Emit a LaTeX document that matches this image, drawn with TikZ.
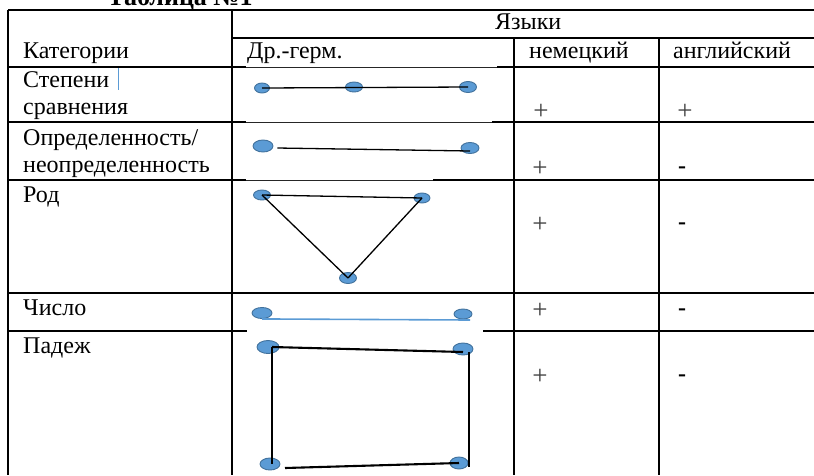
\documentclass[tikz,border=0pt]{standalone}
\usepackage{fontspec}
\setmainfont{Liberation Serif}
\usetikzlibrary{shapes.geometric}
\definecolor{dotblue}{HTML}{5B9BD5}
\definecolor{dotedge}{HTML}{41719C}
\begin{document}
\begin{tikzpicture}[x=1pt,y=-1pt,
  txt/.style={anchor=base west, inner sep=0, font=\fontsize{24}{28}\selectfont},
  sign/.style={anchor=center, inner sep=0, font=\fontsize{27}{30}\selectfont, text=black!75},
  minus/.style={anchor=center, inner sep=0, font=\bfseries\fontsize{24}{28}\selectfont, text=black},
  dot/.style={ellipse, fill=dotblue, draw=dotedge, line width=0.9pt, inner sep=0, minimum width=16pt, minimum height=10pt},
  rule/.style={line width=2.4pt, black},
  faint/.style={line width=0.9pt, black!85},
  edge/.style={line width=1.3pt, black},
  thickedge/.style={line width=2.1pt, black},
  blueedge/.style={line width=1.6pt, dotblue}
]
\useasboundingbox (0,0) rectangle (814,475);
\clip (0,0) rectangle (814,475);

% title (cut off at the top, as in the reference)
\node[anchor=base, inner sep=0, font=\bfseries\fontsize{26}{30}\selectfont] (title) at (180,5) {Таблица №1};

% table rules
\draw[rule] (8,10) -- (814,10);
\draw[rule] (232,38) -- (814,38);
\draw[rule] (8,67) -- (246,67);
\draw[faint] (246,67) -- (497,67);
\draw[rule] (497,67) -- (814,67);
\draw[rule] (8,122) -- (246,122);
\draw[faint] (246,122) -- (492,122);
\draw[rule] (492,122) -- (814,122);
\draw[rule] (8,180) -- (246,180);
\draw[faint] (246,180) -- (433,180);
\draw[rule] (433,180) -- (814,180);
\draw[rule] (8,293) -- (814,293);
\draw[rule] (8,331) -- (247,331);
\draw[rule] (483,331) -- (814,331);
\draw[rule] (8,10) -- (8,475);
\draw[rule] (232,10) -- (232,475);
\draw[rule] (514,38) -- (514,475);
\draw[rule] (659,38) -- (659,475);

% text cursor
\draw[line width=1pt, dotblue] (118,68) -- (118,90);

% header
\node[txt] (hcat) at (23,58) {Категории};
\node[txt] (hlang) at (495,29) {Языки};
\node[txt] (hold) at (247,58) {Др.-герм.};
\node[txt] (hger) at (529,58) {немецкий};
\node[txt] (heng) at (673,58) {английский};

% row labels
\node[txt] (r1a) at (23,87) {Степени};
\node[txt] (r1b) at (23,114) {сравнения};
\node[txt] (r2a) at (23,145) {Определенность/};
\node[txt] (r2b) at (23,172) {неопределенность};
\node[txt] (r3) at (23,202) {Род};
\node[txt] (r4) at (23,315) {Число};
\node[txt] (r5) at (23,353) {Падеж};

% signs
\node[sign] (s1g) at (541,112) {+};
\node[sign] (s1e) at (685,112) {+};
\node[sign] (s2g) at (540,169) {+};
\node[minus] (s2e) at (682,170) {-};
\node[sign] (s3g) at (540,225) {+};
\node[minus] (s3e) at (682,226) {-};
\node[sign] (s4g) at (540,311) {+};
\node[minus] (s4e) at (682,312) {-};
\node[sign] (s5g) at (540,377) {+};
\node[minus] (s5e) at (682,378) {-};

% row 1 graph
\node[dot, minimum width=15pt] (a1) at (262,88) {};
\node[dot, minimum width=17pt] (a2) at (354,87) {};
\node[dot, minimum width=17pt, minimum height=11pt] (a3) at (468,87) {};
\draw[edge] (a1.center) -- (a3.center);

% row 2 graph
\node[dot, minimum width=20pt, minimum height=12pt] (b1) at (263,146) {};
\node[dot, minimum width=18pt, minimum height=11pt] (b2) at (470,148) {};
\draw[edge] ([xshift=4pt,yshift=-2pt]b1.east) -- ([yshift=-3pt]b2.center);

% row 3 graph
\node[dot, minimum width=17pt] (c1) at (262,195) {};
\node[dot] (c2) at (422,198) {};
\node[dot, minimum width=17pt, minimum height=11pt] (c3) at (348,278) {};
\draw[edge] (c1.center) -- (c2.center);
\draw[edge] (c1.center) -- (c3.center);
\draw[edge] (c2.center) -- (c3.center);

% row 4 graph
\node[dot, minimum width=20pt, minimum height=11pt] (d1) at (262,313) {};
\node[dot, minimum width=18pt] (d2) at (463,314) {};
\draw[blueedge] (d1.south) -- ([xshift=7pt,yshift=-6pt]d2.center);

% row 5 graph
\node[dot, minimum width=22pt, minimum height=13pt] (e1) at (268,347) {};
\node[dot, minimum width=20pt, minimum height=12pt] (e2) at (463,349) {};
\node[dot, minimum width=20pt, minimum height=12pt] (e3) at (270,464) {};
\node[dot, minimum width=18pt, minimum height=12pt] (e4) at (459,463) {};
\draw[thickedge] ([xshift=4pt]e1.center) -- ([yshift=-3pt]e2.center);
\draw[thickedge] ([xshift=4pt]e1.center) -- ([xshift=2pt]e3.center);
\draw[thickedge] ([xshift=6pt,yshift=-3pt]e2.center) -- ([xshift=10pt,yshift=-4pt]e4.center);
\draw[thickedge] ([xshift=15pt,yshift=-4pt]e3.center) -- (e4.center);
\end{tikzpicture}
\end{document}
